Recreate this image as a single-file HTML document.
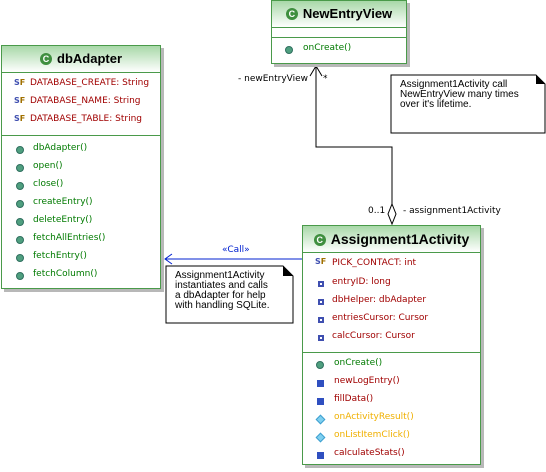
<!DOCTYPE html>
<html><head><meta charset="utf-8"><style>
body{margin:0;width:546px;height:472px;background:#fff;position:relative;overflow:hidden;font-family:"DejaVu Sans","Liberation Sans",sans-serif;}
.box{position:absolute;border:1px solid #4a9a4a;background:#fff;box-shadow:3px 3px 0 #b8b8b8;box-sizing:border-box;}
.hd{position:absolute;left:0;right:0;top:0;background:linear-gradient(#a8d8a8,#fff);border-bottom:1px solid #4a9a4a;font-weight:bold;font-size:13px;font-family:"Liberation Sans",sans-serif;color:#000;text-align:center;box-sizing:border-box;}
.g{display:inline-block;width:12px;height:12px;border-radius:50%;background:#3f8f3f;color:#fff;font-size:9px;line-height:12px;text-align:center;vertical-align:1px;margin-right:5px;}
.r{position:absolute;font-size:9px;white-space:nowrap;}
.red{color:#a00000}.grn{color:#007a00}.yel{color:#f0b000}
.dot{position:absolute;width:8px;height:8px;border-radius:50%;background:#4f9f7f;border:1px solid #2f6f5f;box-sizing:border-box;}
.sq{position:absolute;width:7px;height:7px;background:#2f4fc0;box-sizing:border-box;}
.sqs{position:absolute;width:6px;height:6px;background:#fff;border:2px solid #3f4fb0;box-sizing:border-box;}
.dia{position:absolute;width:7px;height:7px;background:#7fd0f0;border:1px solid #3f9fcf;transform:rotate(45deg);box-sizing:border-box;}
.sf{position:absolute;font-size:8px;font-weight:bold;color:#3f4fb0;}
.sf b{color:#a07000}
.sep{position:absolute;left:0;right:0;height:0;border-top:1px solid #4a9a4a;}
.note{position:absolute;font-family:"Liberation Sans",sans-serif;font-size:10px;line-height:10px;color:#000;}
.lbl{position:absolute;font-size:9px;white-space:nowrap;color:#000;}
</style></head><body>
<svg width="546" height="472" style="position:absolute;left:0;top:0">
<polyline points="316,64 316,147 392,147 392,205" fill="none" stroke="#000" stroke-width="1"/>
<polyline points="310,76 316,66 322,76" fill="none" stroke="#000"/>
<polygon points="392,204 396,214 392,224 388,214" fill="#fff" stroke="#000"/>
<line x1="165" y1="259" x2="302" y2="259" stroke="#0020d0"/>
<polyline points="172,254 165,259 172,264" fill="none" stroke="#0020d0"/>
<polygon points="391,75 536,75 545,84 545,133 391,133" fill="#fff" stroke="#000"/>
<polygon points="536,75 545,84 536,84" fill="#000"/>
<polygon points="166,266 283,266 293,276 293,323 166,323" fill="#fff" stroke="#000"/>
<polygon points="283,266 293,276 283,276" fill="#000"/>
</svg>
<div class="note" style="left:400px;top:80px">Assignment1Activity call<br>NewEntryView many times<br>over it's lifetime.</div>
<div class="note" style="left:175px;top:271px">Assignment1Activity<br>instantiates and calls<br>a dbAdapter for help<br>with handling SQLite.</div>
<div class="lbl" style="left:238px;top:74px">- newEntryView</div>
<div class="lbl" style="left:323px;top:74px">*</div>
<div class="lbl" style="left:368px;top:206px">0..1</div>
<div class="lbl" style="left:403px;top:206px">- assignment1Activity</div>
<div class="lbl" style="left:222px;top:245px;color:#0020d0">«Call»</div>

<div class="box" style="left:1px;top:45px;width:160px;height:244px">
<div class="hd" style="height:27px;line-height:26px"><span class="g">C</span>dbAdapter</div>
<div class="sf" style="left:12px;top:32px">S<b>F</b></div><div class="r red" style="left:28px;top:32px">DATABASE_CREATE: String</div>
<div class="sf" style="left:12px;top:50px">S<b>F</b></div><div class="r red" style="left:28px;top:50px">DATABASE_NAME: String</div>
<div class="sf" style="left:12px;top:68px">S<b>F</b></div><div class="r red" style="left:28px;top:68px">DATABASE_TABLE: String</div>
<div class="sep" style="top:89px"></div>
<div class="dot" style="left:14px;top:100px"></div><div class="r grn" style="left:31px;top:97px">dbAdapter()</div>
<div class="dot" style="left:14px;top:118px"></div><div class="r grn" style="left:31px;top:115px">open()</div>
<div class="dot" style="left:14px;top:136px"></div><div class="r grn" style="left:31px;top:133px">close()</div>
<div class="dot" style="left:14px;top:154px"></div><div class="r grn" style="left:31px;top:151px">createEntry()</div>
<div class="dot" style="left:14px;top:172px"></div><div class="r grn" style="left:31px;top:169px">deleteEntry()</div>
<div class="dot" style="left:14px;top:190px"></div><div class="r grn" style="left:31px;top:187px">fetchAllEntries()</div>
<div class="dot" style="left:14px;top:208px"></div><div class="r grn" style="left:31px;top:205px">fetchEntry()</div>
<div class="dot" style="left:14px;top:226px"></div><div class="r grn" style="left:31px;top:223px">fetchColumn()</div>
</div>

<div class="box" style="left:271px;top:0px;width:136px;height:64px">
<div class="hd" style="height:27px;line-height:26px"><span class="g">C</span>NewEntryView</div>
<div class="sep" style="top:36px"></div>
<div class="dot" style="left:13px;top:45px"></div><div class="r grn" style="left:31px;top:42px">onCreate()</div>
</div>

<div class="box" style="left:302px;top:225px;width:179px;height:240px">
<div class="hd" style="height:27px;line-height:26px;font-size:14px"><span class="g">C</span>Assignment1Activity</div>
<div class="sf" style="left:12px;top:31px">S<b>F</b></div><div class="r red" style="left:29px;top:32px">PICK_CONTACT: int</div>
<div class="sqs" style="left:15px;top:55px"></div><div class="r red" style="left:29px;top:51px">entryID: long</div>
<div class="sqs" style="left:15px;top:73px"></div><div class="r red" style="left:29px;top:69px">dbHelper: dbAdapter</div>
<div class="sqs" style="left:15px;top:91px"></div><div class="r red" style="left:29px;top:87px">entriesCursor: Cursor</div>
<div class="sqs" style="left:15px;top:109px"></div><div class="r red" style="left:29px;top:105px">calcCursor: Cursor</div>
<div class="sep" style="top:126px"></div>
<div class="dot" style="left:13px;top:135px"></div><div class="r grn" style="left:31px;top:132px">onCreate()</div>
<div class="sq" style="left:14px;top:154px"></div><div class="r red" style="left:31px;top:150px">newLogEntry()</div>
<div class="sq" style="left:14px;top:172px"></div><div class="r red" style="left:31px;top:168px">fillData()</div>
<div class="dia" style="left:14px;top:190px"></div><div class="r yel" style="left:31px;top:186px">onActivityResult()</div>
<div class="dia" style="left:14px;top:208px"></div><div class="r yel" style="left:31px;top:204px">onListItemClick()</div>
<div class="sq" style="left:14px;top:226px"></div><div class="r red" style="left:31px;top:222px">calculateStats()</div>
</div>
</body></html>
